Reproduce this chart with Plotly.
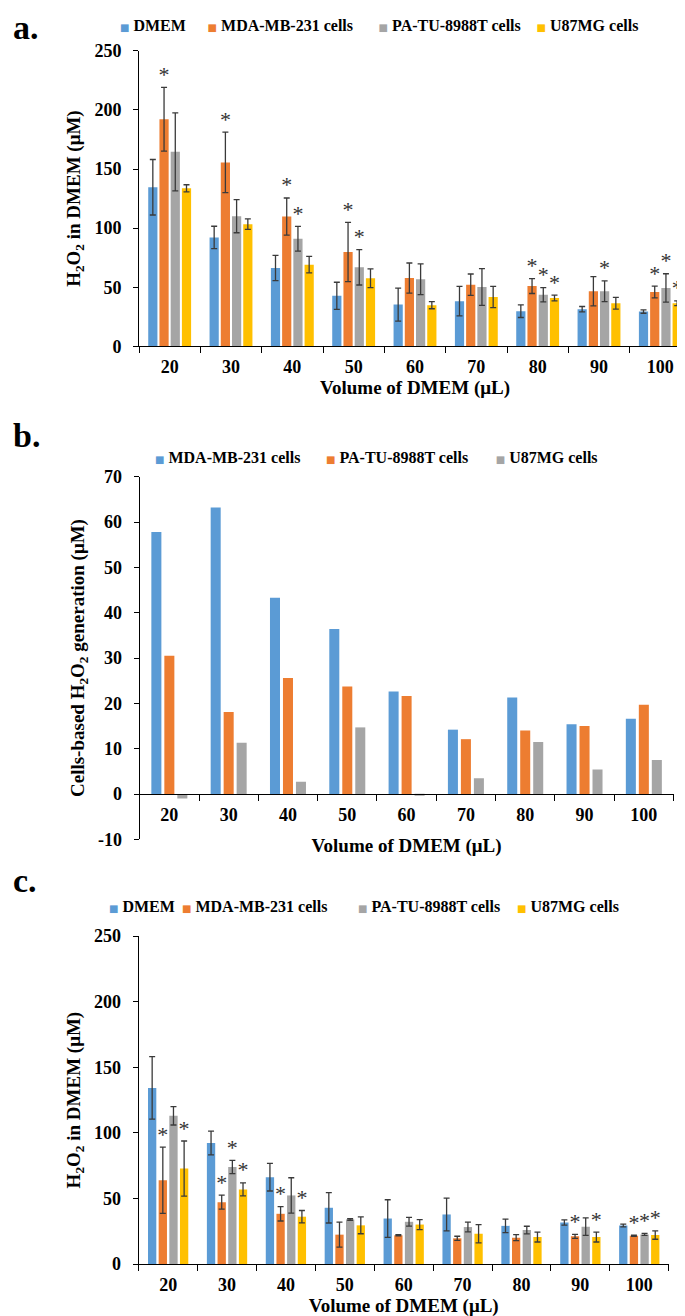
import plotly.graph_objects as go

# ---------------- data ----------------
volumes = ["20", "30", "40", "50", "60", "70", "80", "90", "100"]
series_names = ["DMEM", "MDA-MB-231 cells", "PA-TU-8988T cells", "U87MG cells"]

# Panel a: H2O2 in DMEM (uM), with cells
a_dmem = [134.6, 92.1, 66.3, 42.7, 35.3, 38.2, 29.7, 31.4, 29.4]
a_dmem_err = [23.5, 9.5, 10.7, 11.5, 14.0, 12.5, 5.3, 2.3, 1.4]
a_mda = [192.1, 155.6, 109.8, 79.8, 57.8, 52.2, 51.0, 46.6, 46.0]
a_mda_err = [27.0, 25.6, 15.7, 25.0, 12.7, 9.0, 6.3, 12.3, 5.0]
a_pa = [164.6, 110.1, 91.0, 66.9, 56.7, 50.2, 43.7, 46.6, 49.4]
a_pa_err = [33.0, 14.0, 10.5, 15.0, 13.0, 15.6, 6.0, 8.7, 12.0]
a_u87 = [133.7, 103.4, 69.1, 57.6, 34.8, 41.8, 40.9, 36.5, 36.5]
a_u87_err = [3.0, 4.5, 7.0, 8.0, 3.0, 9.0, 2.5, 5.0, 2.0]
a_dmem_sig = [0, 0, 0, 0, 0, 0, 0, 0, 0]
a_mda_sig = [1, 1, 1, 1, 0, 0, 1, 0, 1]
a_pa_sig = [0, 0, 1, 1, 0, 0, 1, 1, 1]
a_u87_sig = [0, 0, 0, 0, 0, 0, 1, 0, 1]

# Panel b: cells-based H2O2 generation (uM)
b_names = ["MDA-MB-231 cells", "PA-TU-8988T cells", "U87MG cells"]
b_mda = [57.8, 63.2, 43.3, 36.4, 22.6, 14.2, 21.3, 15.4, 16.6]
b_pa = [30.5, 18.1, 25.6, 23.7, 21.6, 12.1, 14.0, 15.0, 19.7]
b_u87 = [-1.0, 11.3, 2.7, 14.7, -0.3, 3.5, 11.5, 5.4, 7.5]

# Panel c: H2O2 in DMEM (uM)
c_dmem = [134.3, 92.3, 66.2, 42.9, 34.7, 37.8, 29.1, 31.7, 29.4]
c_dmem_err = [23.8, 9.0, 10.5, 11.6, 14.3, 12.5, 5.2, 2.0, 1.0]
c_mda = [63.9, 47.2, 38.3, 22.4, 21.9, 19.6, 20.1, 21.1, 21.6]
c_mda_err = [25.3, 5.4, 5.5, 9.5, 0.5, 1.6, 2.3, 1.5, 0.5]
c_pa = [113.0, 74.0, 52.3, 34.0, 32.2, 28.2, 25.9, 28.5, 22.6]
c_pa_err = [7.0, 5.0, 13.5, 0.6, 3.3, 3.7, 2.9, 6.7, 0.8]
c_u87 = [72.8, 56.9, 36.1, 29.5, 30.1, 23.1, 20.6, 20.6, 22.1]
c_u87_err = [21.0, 5.0, 4.7, 6.4, 3.8, 7.0, 3.8, 3.8, 3.2]
c_dmem_sig = [0, 0, 0, 0, 0, 0, 0, 0, 0]
c_mda_sig = [1, 1, 1, 0, 0, 0, 0, 1, 1]
c_pa_sig = [0, 1, 0, 0, 0, 0, 0, 0, 1]
c_u87_sig = [1, 1, 1, 0, 0, 0, 0, 1, 1]

a_ticks = [0, 50, 100, 150, 200, 250]
b_ticks = [-10, 0, 10, 20, 30, 40, 50, 60, 70]
c_ticks = [0, 50, 100, 150, 200, 250]

# ---------------- style ----------------
W, H = 685, 1316
FONT = "Liberation Serif"
COLORS4 = ["#5B9BD5", "#ED7D31", "#A5A5A5", "#FFC000"]
COLORS3 = ["#5B9BD5", "#ED7D31", "#A5A5A5"]
ERR_COLOR = "#3a3a3a"
AXIS_COLOR = "#000000"

# pixel geometry of plot areas: (x0, x1, ytop, ybottom)
GEO = {
    "a": (131.0, 683.0, 38.0, 334.6),
    "b": (131.7, 665.5, 465.5, 829.5),
    "c": (130.7, 660.7, 926.7, 1255.8),
}
# bar width / bar pitch as fraction of a category
BAR = {"a": (0.150, 0.183), "b": (0.169, 0.219), "c": (0.141, 0.181)}

# legend entry start (swatch left edge px x, px y center)
LEG = {
    "a": [(112, 12), (199.6, 12), (370.6, 12), (528.5, 12)],
    "b": [(147, 446), (318, 446), (487.7, 446)],
    "c": [(101, 896.7), (174, 896.7), (350, 896.7), (509, 896.7)],
}
LEG_TEXT_OFFSET = 40  # px from legend left edge to entry text start


def px_x(p):
    return p / W


def px_y(p):
    return 1 - p / H


idx = list(range(len(volumes)))
fig = go.Figure()
legend_counter = [0]


def legend_id():
    legend_counter[0] += 1
    return "legend" if legend_counter[0] == 1 else f"legend{legend_counter[0]}"


layout_legends = {}


def add_panel(panel, xa, ya, names, colors, vals, errs, sigs):
    bw, pitch = BAR[panel]
    n = len(vals)
    for i in range(n):
        center = (i - (n - 1) / 2) * pitch
        err = errs[i] if errs else None
        fig.add_trace(go.Bar(
            x=idx, y=vals[i], name=names[i],
            width=bw, offset=center - bw / 2,
            marker=dict(color=colors[i], line=dict(width=0)),
            error_y=dict(type="data", array=err, color=ERR_COLOR,
                         thickness=1.3, width=3, visible=err is not None),
            xaxis=xa, yaxis=ya, showlegend=False,
        ))
        # legend entry: coloured square swatch + label
        lid = legend_id()
        label = (f'<span style="color:{colors[i]};font-size:10px;font-family:DejaVu Sans">■</span>'
                 f' {names[i]}')
        fig.add_trace(go.Scatter(
            x=[None], y=[None], mode="none", name=label,
            xaxis=xa, yaxis=ya, legend=lid, showlegend=True,
        ))
        tx, ty = LEG[panel][i]
        layout_legends[lid] = dict(
            x=px_x(tx - LEG_TEXT_OFFSET), y=px_y(ty), xanchor="left", yanchor="middle",
            orientation="h", bgcolor="rgba(0,0,0,0)", borderwidth=0,
            font=dict(family=FONT, size=16, color="#000", weight="bold"),
            itemwidth=30,
        )
        # significance asterisks
        if sigs is not None:
            sx = [j + center for j in idx if sigs[i][j]]
            sy = [vals[i][j] + errs[i][j] for j in idx if sigs[i][j]]
            if sx:
                fig.add_trace(go.Scatter(
                    x=sx, y=sy, mode="text", text=["*"] * len(sx),
                    textposition="top center", cliponaxis=False,
                    textfont=dict(family=FONT, size=22, color="#333333"),
                    xaxis=xa, yaxis=ya, showlegend=False, hoverinfo="skip",
                ))


add_panel("a", "x", "y", series_names, COLORS4,
          [a_dmem, a_mda, a_pa, a_u87],
          [a_dmem_err, a_mda_err, a_pa_err, a_u87_err],
          [a_dmem_sig, a_mda_sig, a_pa_sig, a_u87_sig])
add_panel("b", "x2", "y2", b_names, COLORS3,
          [b_mda, b_pa, b_u87], None, None)
add_panel("c", "x3", "y3", series_names, COLORS4,
          [c_dmem, c_mda, c_pa, c_u87],
          [c_dmem_err, c_mda_err, c_pa_err, c_u87_err],
          [c_dmem_sig, c_mda_sig, c_pa_sig, c_u87_sig])

tickfont = dict(family=FONT, size=18, color="#000", weight="bold")
titlefont = dict(family=FONT, size=19, color="#000", weight="bold")


def xaxis_cfg(panel, standoff=3, **extra):
    x0, x1, yt, yb = GEO[panel]
    d = dict(
        domain=[px_x(x0), px_x(x1)], range=[-0.5, len(volumes) - 0.5],
        tickmode="array", tickvals=idx, ticktext=volumes, ticks="",
        showline=True, linecolor=AXIS_COLOR, linewidth=1, mirror=False,
        showgrid=False, zeroline=False, tickfont=tickfont,
        minor=dict(tickmode="linear", tick0=-0.5, dtick=1, ticks="outside",
                   ticklen=6, tickcolor=AXIS_COLOR, tickwidth=1, showgrid=False),
        title=dict(text="Volume of DMEM (μL)", font=titlefont, standoff=standoff),
        automargin=False, ticklabelstandoff=4,
    )
    d.update(extra)
    return d


def yaxis_cfg(panel, ticks, title, ticktext=None, **extra):
    x0, x1, yt, yb = GEO[panel]
    d = dict(
        domain=[px_y(yb), px_y(yt)], range=[ticks[0], ticks[-1]],
        tickmode="array", tickvals=ticks,
        ticktext=ticktext if ticktext else [str(t) for t in ticks],
        ticks="outside", ticklen=5, tickcolor=AXIS_COLOR, tickwidth=1,
        showline=True, linecolor=AXIS_COLOR, linewidth=1,
        showgrid=False, zeroline=False, tickfont=tickfont,
        title=dict(text=title, font=titlefont, standoff=8),
        automargin=False, ticklabelstandoff=8,
    )
    d.update(extra)
    return d


bx0, bx1, byt, byb = GEO["b"]
zero_px = byt + (b_ticks[-1] - 0) / (b_ticks[-1] - b_ticks[0]) * (byb - byt)

layout = dict(
    width=W, height=H, autosize=False,
    margin=dict(l=0, r=0, t=0, b=0, pad=0),
    paper_bgcolor="white", plot_bgcolor="white",
    barmode="overlay",
    font=dict(family=FONT, color="#000"),
    xaxis=xaxis_cfg("a", anchor="y"),
    yaxis=yaxis_cfg("a", a_ticks, "H<sub>2</sub>O<sub>2</sub> in DMEM (μM)", anchor="x"),
    xaxis2=xaxis_cfg("b", standoff=15, anchor="free", position=px_y(zero_px)),
    yaxis2=yaxis_cfg("b", b_ticks, "Cells-based H<sub>2</sub>O<sub>2</sub> generation (μM)",
                     anchor="x2"),
    xaxis3=xaxis_cfg("c", anchor="y3"),
    yaxis3=yaxis_cfg("c", c_ticks, "H<sub>2</sub>O<sub>2</sub> in DMEM (μM)", anchor="x3"),
    annotations=[
        dict(text=t, x=px_x(3), y=px_y(yc), xref="paper", yref="paper",
             xanchor="left", yanchor="middle", showarrow=False,
             font=dict(family=FONT, size=34, color="#000", weight="bold"))
        for t, yc in [("a.", 15), ("b.", 424), ("c.", 871)]
    ],
)
layout.update(layout_legends)
fig.update_layout(**layout)

fig.write_html("out.html")
